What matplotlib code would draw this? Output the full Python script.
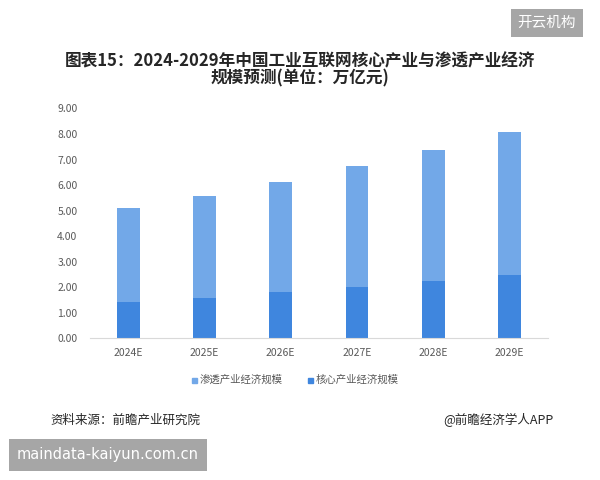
import matplotlib
matplotlib.use("Agg")
import matplotlib.pyplot as plt
from matplotlib.patches import Rectangle

plt.rcParams['font.family'] = ['Noto Sans CJK SC', 'DejaVu Sans']

categories = ["2024E", "2025E", "2026E", "2027E", "2028E", "2029E"]
core = [1.43, 1.60, 1.80, 2.01, 2.24, 2.48]
penetration = [3.66, 3.98, 4.33, 4.73, 5.13, 5.60]
yticks = [0, 1, 2, 3, 4, 5, 6, 7, 8, 9]

c_core = "#3f86de"
c_pen = "#72a8e8"

fig = plt.figure(figsize=(6, 4.8), dpi=100)
ax = fig.add_axes([0.15, 0.295, 0.763, 0.479])

x = range(len(categories))
ax.bar(x, core, width=0.3, color=c_core, label="核心产业经济规模")
ax.bar(x, penetration, width=0.3, bottom=core, color=c_pen, label="渗透产业经济规模")

ax.set_xlim(-0.5, len(categories) - 0.5)
ax.set_ylim(0, 9)
ax.set_yticks(yticks)
ax.set_yticklabels([f"{v:.2f}" for v in yticks], fontsize=7.5, color="#595959")
ax.set_xticks(list(x))
ax.set_xticklabels(categories, fontsize=7.5, color="#595959")
ax.tick_params(axis="both", length=0)
ax.tick_params(axis="x", pad=7)
ax.tick_params(axis="y", pad=9)
for s in ["top", "right", "left"]:
    ax.spines[s].set_visible(False)
ax.spines["bottom"].set_color("#d9d9d9")
ax.spines["bottom"].set_linewidth(0.8)

# Title
fig.text(0.5, 0.873, "图表15：2024-2029年中国工业互联网核心产业与渗透产业经济",
         ha="center", va="center", fontsize=12, fontweight="bold", color="#262626")
fig.text(0.5, 0.836, "规模预测(单位：万亿元)",
         ha="center", va="center", fontsize=12, fontweight="bold", color="#262626")

# Legend (manual)
fig.patches.append(Rectangle((192/600, 1-383/480), 5/600, 5/480, transform=fig.transFigure,
                             color=c_pen, figure=fig))
fig.text(200/600, 1-380/480, "渗透产业经济规模", ha="left", va="center", fontsize=7.5, color="#595959")
fig.patches.append(Rectangle((308/600, 1-383/480), 5/600, 5/480, transform=fig.transFigure,
                             color=c_core, figure=fig))
fig.text(316/600, 1-380/480, "核心产业经济规模", ha="left", va="center", fontsize=7.5, color="#595959")

# Source
fig.text(50/600, 1-420/480, "资料来源：前瞻产业研究院", ha="left", va="center", fontsize=9, color="#262626")
fig.text(553/600, 1-420/480, "@前瞻经济学人APP", ha="right", va="center", fontsize=9, color="#262626")

# Overlay tags
fig.text(547/600, 1-23/480, "开云机构", ha="center", va="center", fontsize=10.5, color="white",
         bbox=dict(boxstyle="square,pad=0.45", fc="#a6a6a6", ec="none"))
fig.text(108/600, 1-455/480, "maindata-kaiyun.com.cn", ha="center", va="center", fontsize=10.5,
         color="white", family=["DejaVu Sans"],
         bbox=dict(boxstyle="square,pad=0.55", fc="#a6a6a6", ec="none"))

fig.savefig("out.png", dpi=100)
